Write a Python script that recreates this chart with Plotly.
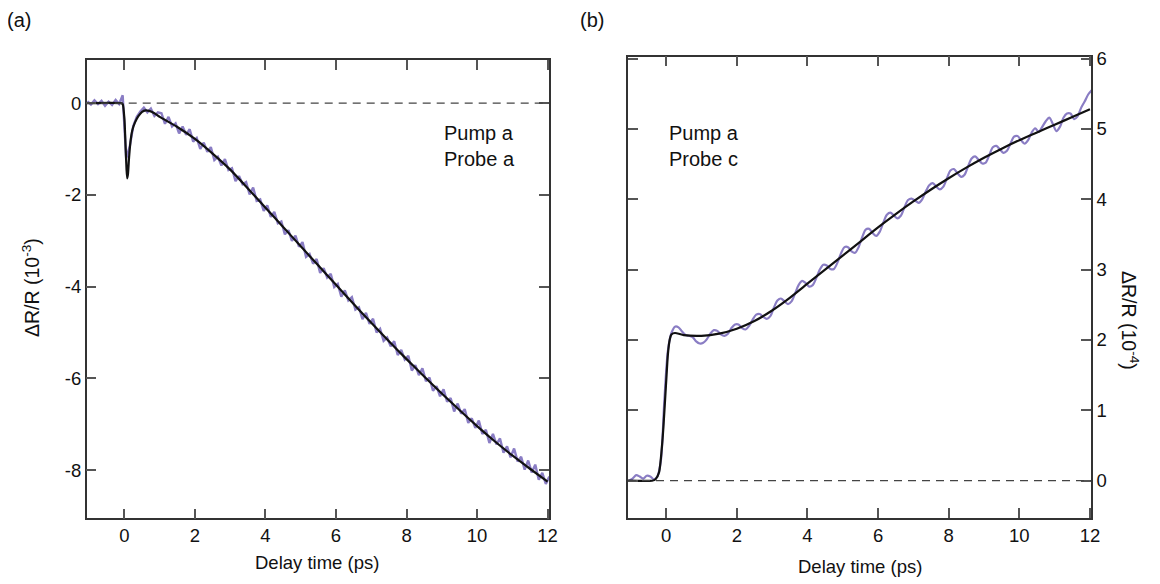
import plotly.graph_objects as go
import numpy as np

# ---------------- data ----------------
# sample grid of measured traces (ps): start and step
T_START = -1.05
T_STEP = 0.1

# Panel (a): Pump a / Probe a, dR/R (1e-3), measured
data_a = [
    0.04, -0.03, 0.06, -0.02, 0.05, -0.06, 0.03, -0.04, 0.07, -0.02,
    0.17,
    -1.20, -0.95, -0.50, -0.30, -0.18, -0.10, -0.20, -0.12, -0.28, -0.20,
    -0.22, -0.45, -0.30, -0.51, -0.44, -0.66, -0.51, -0.69, -0.57, -0.84,
    -0.76, -1.00, -0.86, -1.06, -0.96, -1.24, -1.17, -1.36, -1.22, -1.46,
    -1.42, -1.70, -1.59, -1.77, -1.72, -1.99, -1.84, -2.13, -2.10, -2.35,
    -2.23, -2.48, -2.37, -2.62, -2.58, -2.86, -2.77, -3.00, -2.89, -3.13,
    -3.03, -3.35, -3.29, -3.50, -3.40, -3.70, -3.60, -3.80, -3.72, -4.01,
    -3.94, -4.22, -4.08, -4.30, -4.23, -4.50, -4.45, -4.71, -4.57, -4.81,
    -4.70, -5.00, -4.92, -5.18, -5.11, -5.30, -5.19, -5.49, -5.38, -5.59,
    -5.51, -5.83, -5.71, -5.93, -5.78, -6.06, -5.98, -6.27, -6.17, -6.39,
    -6.24, -6.51, -6.43, -6.72, -6.55, -6.77, -6.67, -6.97, -6.87, -7.08,
    -6.92, -7.21, -7.12, -7.41, -7.21, -7.44, -7.31, -7.62, -7.48, -7.72,
    -7.53, -7.81, -7.71, -7.99, -7.79, -8.05, -7.88, -8.21, -8.06, -8.30,
    -8.14,
]

# Panel (a): fit curve
fit_a_t = [-1.08, -0.1, -0.05, 0.0, 0.03, 0.06, 0.08, 0.1, 0.13, 0.17, 0.22,
           0.3, 0.4, 0.5, 0.6, 0.7, 0.85, 1.0, 1.5, 2.0, 2.5, 3.0, 3.5, 4.0,
           4.5, 5.0, 5.5, 6.0, 6.5, 7.0, 7.5, 8.0, 8.5, 9.0, 9.5, 10.0, 10.5,
           11.0, 11.5, 12.0]
fit_a_v = [0.0, 0.0, -0.02, -0.35, -0.9, -1.45, -1.64, -1.55, -1.2, -0.85, -0.6,
           -0.42, -0.28, -0.19, -0.16, -0.17, -0.22, -0.3, -0.52, -0.78, -1.1,
           -1.45, -1.86, -2.28, -2.7, -3.12, -3.54, -3.96, -4.38, -4.79, -5.19,
           -5.58, -5.96, -6.33, -6.69, -7.04, -7.37, -7.68, -7.97, -8.25]

# Panel (b): Pump a / Probe c, dR/R (1e-4), measured
data_b = [
    0.00, 0.03, 0.08, 0.06, 0.03, 0.07, 0.06, 0.02, 0.06, 0.28,
    1.15,
    1.85, 2.10, 2.19, 2.18, 2.12, 2.07, 2.06, 2.04, 1.98, 1.95,
    1.96, 2.01, 2.09, 2.14, 2.13, 2.08, 2.06, 2.09, 2.17, 2.22,
    2.22, 2.17, 2.15, 2.20, 2.29, 2.36, 2.37, 2.33, 2.30, 2.34,
    2.46, 2.56, 2.59, 2.55, 2.51, 2.55, 2.66, 2.78, 2.84, 2.81,
    2.76, 2.78, 2.88, 3.00, 3.07, 3.06, 3.01, 3.01, 3.10, 3.23,
    3.32, 3.32, 3.26, 3.24, 3.32, 3.46, 3.57, 3.58, 3.52, 3.48,
    3.54, 3.67, 3.78, 3.81, 3.77, 3.73, 3.77, 3.89, 3.99, 4.01,
    3.98, 3.95, 4.00, 4.11, 4.20, 4.23, 4.18, 4.14, 4.18, 4.30,
    4.41, 4.43, 4.37, 4.32, 4.35, 4.47, 4.58, 4.61, 4.56, 4.51,
    4.52, 4.63, 4.74, 4.76, 4.71, 4.66, 4.69, 4.79, 4.89, 4.90,
    4.84, 4.79, 4.84, 4.95, 5.01, 4.96, 5.03, 5.11, 5.16, 5.07,
    4.97, 5.03, 5.16, 5.22, 5.22, 5.14, 5.18, 5.30, 5.39, 5.49,
    5.55,
]

# Panel (b): fit curve
fit_b_t = [-1.08, -0.4, -0.3, -0.2, -0.1, 0.0, 0.05, 0.1, 0.15, 0.25, 0.5, 1.0,
           1.5, 2.0, 2.5, 3.0, 3.5, 4.0, 4.5, 5.0, 5.5, 6.0, 6.5, 7.0, 7.5, 8.0,
           8.5, 9.0, 9.5, 10.0, 10.5, 11.0, 11.5, 12.0]
fit_b_v = [0.0, 0.0, 0.02, 0.12, 0.6, 1.4, 1.8, 2.0, 2.08, 2.10, 2.07, 2.06,
           2.09, 2.16, 2.27, 2.42, 2.6, 2.8, 3.0, 3.2, 3.4, 3.6, 3.79, 3.97,
           4.14, 4.30, 4.45, 4.59, 4.72, 4.84, 4.95, 5.06, 5.17, 5.28]

x_ticks = [0, 2, 4, 6, 8, 10, 12]
y_ticks_a = [0, -2, -4, -6, -8]
y_labels_a = ["0", "-2", "-4", "-6", "-8"]
y_ticks_b = [0, 1, 2, 3, 4, 5, 6]
y_labels_b = ["0", "1", "2", "3", "4", "5", "6"]

# ---------------- figure ----------------
t_a = T_START + T_STEP * np.arange(len(data_a))
t_b = T_START + T_STEP * np.arange(len(data_b))

PURPLE = "#8a7dc4"
FONT = "Liberation Sans, Arial, Helvetica, sans-serif"

fig = go.Figure()
fig.add_trace(go.Scatter(x=t_a, y=data_a, mode="lines",
                         line=dict(color=PURPLE, width=2.4), xaxis="x", yaxis="y",
                         showlegend=False, hoverinfo="skip"))
fig.add_trace(go.Scatter(x=fit_a_t, y=fit_a_v, mode="lines",
                         line=dict(color="#111111", width=2.2, shape="spline", smoothing=0.6),
                         xaxis="x", yaxis="y", showlegend=False))
fig.add_trace(go.Scatter(x=t_b, y=data_b, mode="lines",
                         line=dict(color=PURPLE, width=2.2, shape="spline", smoothing=0.8),
                         xaxis="x2", yaxis="y2", showlegend=False, hoverinfo="skip"))
fig.add_trace(go.Scatter(x=fit_b_t, y=fit_b_v, mode="lines",
                         line=dict(color="#111111", width=2.2, shape="spline", smoothing=0.6),
                         xaxis="x2", yaxis="y2", showlegend=False))

# page body has an 8px margin: the figure starts 8px in from the window corner
OFF = 8
W, H = 1160 - OFF, 584 - OFF

def fx(px):
    return (px - OFF) / W

def fy(py):
    return 1 - (py - OFF) / H

axis_common = dict(showline=True, linecolor="#333333", linewidth=1.5, mirror="ticks",
                   ticks="inside", ticklen=10, tickwidth=1.5, tickcolor="#555555",
                   showgrid=False, zeroline=False, automargin=False,
                   tickfont=dict(family=FONT, size=18.5, color="#111111"))

fig.update_layout(
    width=W, height=H,
    margin=dict(l=0, r=0, t=0, b=0, autoexpand=False),
    paper_bgcolor="white", plot_bgcolor="white",
    font=dict(family=FONT, color="#111111"),
    xaxis=dict(domain=[fx(86.7), fx(549)], range=[-1.07, 12.04], tickvals=x_ticks,
               anchor="y", **axis_common),
    yaxis=dict(domain=[fy(518.3), fy(60)], range=[-9.05, 0.94],
               tickvals=y_ticks_a, ticktext=y_labels_a, anchor="x", **axis_common),
    xaxis2=dict(domain=[fx(628), fx(1091)], range=[-1.08, 12.03], tickvals=x_ticks,
                anchor="y2", **axis_common),
    yaxis2=dict(domain=[fy(518), fy(56.5)], range=[-0.53, 6.03],
                tickvals=y_ticks_b, ticktext=y_labels_b, side="right",
                anchor="x2", **axis_common),
)

# dashed zero lines
for xr, yr in [("x domain", "y"), ("x2 domain", "y2")]:
    fig.add_shape(type="line", xref=xr, yref=yr, x0=0, x1=1, y0=0, y1=0,
                  line=dict(color="#444444", width=1.3, dash="8px,6px"))

def px_ann(text, x, y, size, angle=0, xanchor="center", yanchor="middle", align="center"):
    fig.add_annotation(text=text, xref="paper", yref="paper", x=fx(x), y=fy(y),
                       showarrow=False, textangle=angle, xanchor=xanchor, yanchor=yanchor,
                       align=align, font=dict(family=FONT, size=size, color="#111111"))

px_ann("(a)", 19, 20, 20)
px_ann("(b)", 592, 20, 20)
px_ann("Delay time (ps)", 317, 562, 18.5)
px_ann("Delay time (ps)", 860, 566, 18.5)
px_ann("ΔR/R (10<sup>-3</sup>)", 31, 288, 19.5, angle=-90)
px_ann("ΔR/R (10<sup>-4</sup>)", 1130, 320, 19.5, angle=90)
px_ann("Pump a<br>Probe a", 442, 146, 20, xanchor="left", align="left")
px_ann("Pump a<br>Probe c", 667, 146, 20, xanchor="left", align="left")

fig.write_html("out.html")
